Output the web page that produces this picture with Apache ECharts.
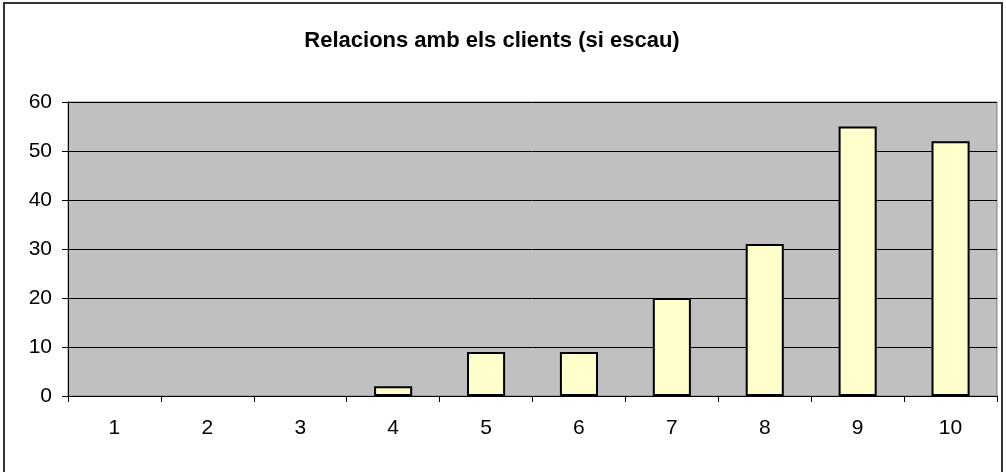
<!DOCTYPE html>
<html>
<head>
<meta charset="utf-8">
<script src="https://cdn.jsdelivr.net/npm/echarts@6/dist/echarts.min.js"></script>
<style>
  html, body { margin: 0; padding: 0; background: #fff; }
  #chart { width: 1006px; height: 472px; }
</style>
</head>
<body>
<div id="chart"></div>
<script>
// Ratings 1..10 and how many responses each received
const categories = ['1', '2', '3', '4', '5', '6', '7', '8', '9', '10'];
const counts = [0, 0, 0, 2, 9, 9, 20, 31, 55, 52];
const yTicks = { min: 0, max: 60, interval: 10 };
const titleText = 'Relacions amb els clients (si escau)';

const chart = echarts.init(document.getElementById('chart'), null, { renderer: 'canvas' });
const font = "'Liberation Sans', Arial, sans-serif";

// Empty categories get no outline so nothing shows on the baseline
const barData = counts.map(v => v === 0
  ? { value: v, itemStyle: { borderWidth: 0, opacity: 0 } }
  : v);

chart.setOption({
  animation: false,
  backgroundColor: '#ffffff',
  title: {
    text: titleText,
    left: 487,
    textAlign: 'center',
    top: 25,
    textStyle: { fontFamily: font, fontWeight: 'bold', fontSize: 22, color: '#000' }
  },
  graphic: [{
    type: 'rect',
    shape: { x: 4, y: 3, width: 998, height: 490 },
    style: { fill: 'none', stroke: '#333', lineWidth: 2 },
    silent: true
  }],
  grid: {
    left: 68, right: 9, top: 102, bottom: 76,
    show: true,
    backgroundColor: '#c0c0c0',
    borderColor: '#808080',
    borderWidth: 1
  },
  xAxis: {
    type: 'category',
    data: categories,
    axisLine: { lineStyle: { color: '#000', width: 1 } },
    axisTick: { show: true, alignWithLabel: false, length: 6, lineStyle: { color: '#000' } },
    axisLabel: { fontFamily: font, fontSize: 21, color: '#000', margin: 22 },
    splitLine: { show: false }
  },
  yAxis: {
    type: 'value',
    min: yTicks.min, max: yTicks.max, interval: yTicks.interval,
    axisLine: { show: true, lineStyle: { color: '#000', width: 1 } },
    axisTick: { show: true, length: 6, lineStyle: { color: '#000' } },
    axisLabel: { fontFamily: font, fontSize: 21, color: '#000', margin: 16 },
    splitLine: { show: true, lineStyle: { color: '#000', width: 1 } }
  },
  series: [{
    type: 'bar',
    data: barData,
    barCategoryGap: '59%',
    itemStyle: { color: '#ffffcc', borderColor: '#000', borderWidth: 2 }
  }]
});
</script>
</body>
</html>
